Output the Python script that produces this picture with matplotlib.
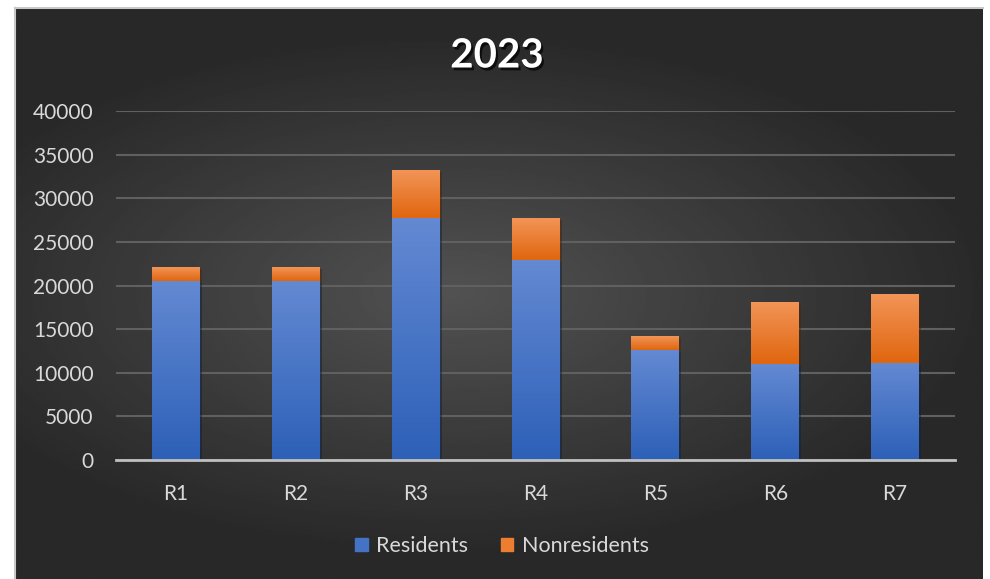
import numpy as np
import matplotlib
matplotlib.use("Agg")
import matplotlib.pyplot as plt
import matplotlib.patheffects as pe
from matplotlib.patches import Patch
from matplotlib.colors import LinearSegmentedColormap

# data
regions = ["R1", "R2", "R3", "R4", "R5", "R6", "R7"]
residents = [20500, 20500, 27700, 22900, 12600, 11000, 11150]
nonresidents = [1600, 1600, 5500, 4800, 1600, 7000, 7850]
yticks = [0, 5000, 10000, 15000, 20000, 25000, 30000, 35000, 40000]

plt.rcParams['font.family'] = ['Lato', 'DejaVu Sans']

fig = plt.figure(figsize=(9.9, 5.79), dpi=100)
fig.patch.set_facecolor("white")

# dark background with radial gradient
bg = fig.add_axes([15/990, 0, 968/990, 571/579])
yy, xx = np.mgrid[-1:1:300j, -1:1:500j]
r = np.sqrt(((xx + 0.1) * 0.9) ** 2 + (yy * 1.1) ** 2)
shade = np.clip(0.32 - 0.16 * r, 0.16, 0.32)
bg.imshow(shade, cmap="gray", vmin=0, vmax=1, aspect="auto", extent=[0, 1, 0, 1])
bg.set_xlim(0, 1)
bg.set_ylim(0, 1)
bg.axis("off")
# light frame on top and left
bg.plot([0, 1], [1, 1], color="#c8c8c8", lw=1.5, transform=bg.transAxes, clip_on=False)
bg.plot([0, 0], [0, 1], color="#c8c8c8", lw=1.5, transform=bg.transAxes, clip_on=False)

ax = fig.add_axes([116/990, 1 - 460/579, 839/990, 349/579])
ax.patch.set_alpha(0)

x = np.arange(len(regions))
b1 = ax.bar(x, residents, width=0.4, color="#4472C4", zorder=3)
b2 = ax.bar(x, nonresidents, width=0.4, bottom=residents, color="#ED7D31", zorder=3)

# vertical gradient on each bar
grad = np.linspace(1, 0, 100).reshape(-1, 1)
blue_cm = LinearSegmentedColormap.from_list("b", ["#2d60b8", "#6389d2"])
orange_cm = LinearSegmentedColormap.from_list("o", ["#e0660f", "#f29457"])
for bars, cm in [(b1, blue_cm), (b2, orange_cm)]:
    for bar in bars:
        x0, y0 = bar.get_x(), bar.get_y()
        w, h = bar.get_width(), bar.get_height()
        ax.imshow(grad, cmap=cm, aspect="auto", extent=[x0, x0 + w, y0, y0 + h], zorder=4)
        bar.set_path_effects([pe.SimplePatchShadow(offset=(1.5, -1.5), alpha=0.5), pe.Normal()])

ax.set_xlim(-0.5, len(regions) - 0.5)
ax.set_ylim(0, 40000)
ax.set_yticks(yticks)
ax.set_xticks(x)
ax.set_xticklabels(regions)
ax.grid(axis="y", color="#606060", lw=1.5, zorder=0)
for s in ["top", "right", "left"]:
    ax.spines[s].set_visible(False)
ax.spines["bottom"].set_color("#bfbfbf")
ax.spines["bottom"].set_linewidth(2)
ax.spines["bottom"].set_zorder(5)
ax.tick_params(axis="both", length=0, colors="#d9d9d9", labelsize=15)
ax.tick_params(axis="y", pad=16)
ax.tick_params(axis="x", pad=17)

fig.text(0.502, 1 - 56/579, "2023", ha="center", va="center", fontsize=29,
         fontweight="bold", color="white",
         path_effects=[pe.withSimplePatchShadow(offset=(1.5, -2), alpha=0.7, shadow_rgbFace="black")])

handles = [Patch(color="#4472C4"), Patch(color="#ED7D31")]
leg = fig.legend(handles, ["Residents", "Nonresidents"], loc="center",
                 bbox_to_anchor=(0.507, 1 - 546/579), ncol=2, frameon=False,
                 fontsize=15.5, handlelength=0.6, handleheight=0.6, handletextpad=0.4,
                 columnspacing=1.5)
for t in leg.get_texts():
    t.set_color("#d9d9d9")

fig.savefig("out.png", dpi=100)
